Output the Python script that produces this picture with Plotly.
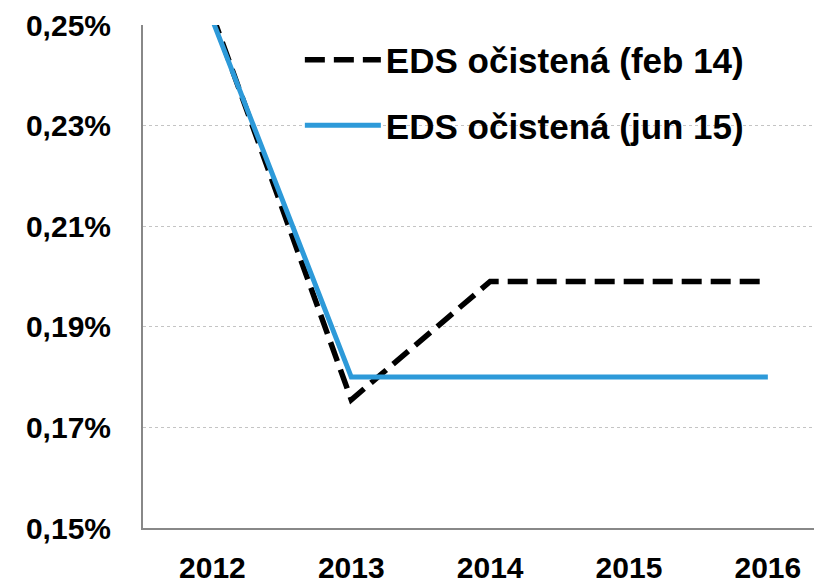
import plotly.graph_objects as go

years = ["2012", "2013", "2014", "2015", "2016"]
eds_feb14 = [0.252, 0.1755, 0.199, 0.199, 0.199]
eds_jun15 = [0.251, 0.180, 0.180, 0.180, 0.180]
name_feb14 = "EDS očistená (feb 14)"
name_jun15 = "EDS očistená (jun 15)"
y_ticks = [0.15, 0.17, 0.19, 0.21, 0.23, 0.25]
y_ticktext = [f"{v:.2f}".replace(".", ",") + "%" for v in y_ticks]

FONT = "Liberation Sans, Arial, sans-serif"

fig = go.Figure()
fig.add_trace(go.Scatter(
    x=years, y=eds_feb14, name=name_feb14, mode="lines",
    legendgroup="a",
    line=dict(color="#000000", width=5.5, dash="20px,9px"),
))
fig.add_trace(go.Scatter(
    x=years, y=eds_jun15, name=name_jun15, mode="lines",
    legendgroup="b",
    line=dict(color="#2d9ad9", width=5),
))

# page body has an 8px default margin, so the figure is sized to fit the window
fig.update_layout(
    width=814, height=575,
    margin=dict(l=135, r=0, t=17, b=55, autoexpand=False),
    paper_bgcolor="white", plot_bgcolor="white",
    font=dict(family=FONT, color="#000000"),
    showlegend=True,
    legend=dict(
        x=0.231, y=0.989, xanchor="left", yanchor="top",
        bgcolor="rgba(0,0,0,0)",
        font=dict(family=FONT, size=35, color="#000000", weight="bold"),
        itemwidth=76,
        traceorder="grouped",
        tracegroupgap=17,
    ),
    xaxis=dict(
        type="category",
        range=[-0.5, 4.39],
        automargin=False,
        showgrid=False,
        showline=True, linecolor="#888888", linewidth=2,
        ticks="", ticklabelstandoff=12,
        tickfont=dict(family=FONT, size=30, color="#000000", weight="bold"),
    ),
    yaxis=dict(
        range=[0.15, 0.25],
        automargin=False,
        tickvals=y_ticks, ticktext=y_ticktext,
        showgrid=True, gridcolor="#c4c4c4", gridwidth=1, griddash="dot",
        showline=True, linecolor="#888888", linewidth=2,
        zeroline=False,
        ticks="", ticklabelstandoff=24,
        tickfont=dict(family=FONT, size=30, color="#000000", weight="bold"),
    ),
)

fig.write_html("out.html")
